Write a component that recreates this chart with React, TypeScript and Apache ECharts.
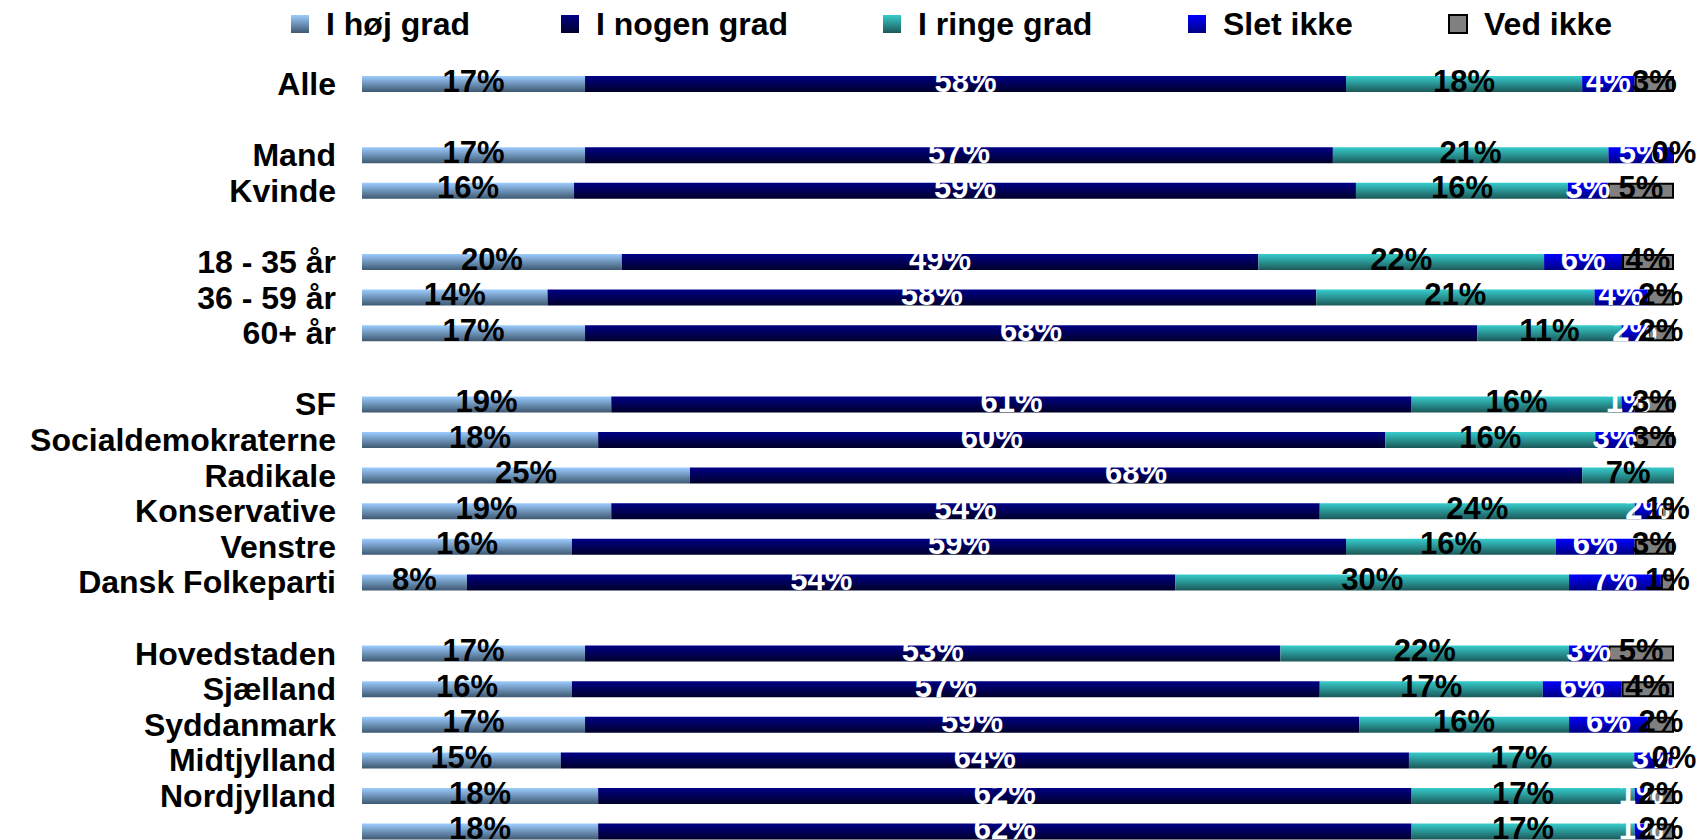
import React, { useEffect, useRef } from "react";
import * as echarts from "echarts";

const categories = [
  "Alle", "",
  "Mand", "Kvinde", "",
  "18 - 35 år", "36 - 59 år", "60+ år", "",
  "SF", "Socialdemokraterne", "Radikale", "Konservative", "Venstre", "Dansk Folkeparti", "",
  "Hovedstaden", "Sjælland", "Syddanmark", "Midtjylland", "Nordjylland", "",
];

const seriesNames = ["I høj grad", "I nogen grad", "I ringe grad", "Slet ikke", "Ved ikke"];

const hoejGrad = [17, null, 17, 16, null, 20, 14, 17, null, 19, 18, 25, 19, 16, 8, null, 17, 16, 17, 15, 18, 18];
const nogenGrad = [58, null, 57, 59, null, 49, 58, 68, null, 61, 60, 68, 54, 59, 54, null, 53, 57, 59, 64, 62, 62];
const ringeGrad = [18, null, 21, 16, null, 22, 21, 11, null, 16, 16, 7, 24, 16, 30, null, 22, 17, 16, 17, 17, 17];
const sletIkke = [4, null, 5, 3, null, 6, 4, 2, null, 1, 3, null, 2, 6, 7, null, 3, 6, 6, 3, 1, 1];
const vedIkke = [3, null, 0, 5, null, 4, 2, 2, null, 3, 3, null, 1, 3, 1, null, 5, 4, 2, 0, 2, 2];

const allValues = [hoejGrad, nogenGrad, ringeGrad, sletIkke, vedIkke];

const FONT = '"Liberation Sans", Arial, Helvetica, sans-serif';

function grad(top: string, bottom: string) {
  return new echarts.graphic.LinearGradient(0, 0, 0, 1, [
    { offset: 0, color: top },
    { offset: 1, color: bottom },
  ]);
}

const colors = [
  () => grad("#9cccff", "#3e5870"),
  () => grad("#000086", "#00002a"),
  () => grad("#36cccc", "#1c5858"),
  () => grad("#0000ff", "#000080"),
  () => "#808080",
];
const labelColors = ["#000", "#fff", "#000", "#fff", "#000"];
const legendLefts = [286, 556, 878, 1183, 1443];

export default function App() {
  const ref = useRef<HTMLDivElement>(null);
  useEffect(() => {
    if (!ref.current) return;
    const chart = echarts.init(ref.current, undefined, { renderer: "svg" });
    const totals = categories.map((_, i) =>
      allValues.reduce((s, arr) => s + (arr[i] == null ? 0 : (arr[i] as number)), 0)
    );
    const series = seriesNames.map((name, si) => ({
      name,
      type: "bar",
      stack: "total",
      barWidth: 16,
      data: allValues[si].map((v, i) =>
        v == null
          ? null
          : {
              value: (v / totals[i]) * 100,
              raw: v,
              itemStyle: si === 4 && v === 0 ? { borderWidth: 0 } : undefined,
            }
      ),
      itemStyle: {
        color: colors[si](),
        borderColor: si === 4 ? "#000" : undefined,
        borderWidth: si === 4 ? 2 : 0,
      },
      label: {
        show: true,
        position: "inside",
        formatter: (p: any) => (p.data && p.data.raw != null ? p.data.raw + "%" : ""),
        color: labelColors[si],
        fontFamily: FONT,
        fontSize: 31,
        fontWeight: "bold",
        offset: [0, -3],
      },
    }));
    const legend = seriesNames.map((name, si) => ({
      data: [name],
      left: legendLefts[si],
      top: 3,
      orient: "horizontal",
      icon: "rect",
      itemWidth: 18,
      itemHeight: 18,
      selectedMode: false,
      textStyle: {
        fontFamily: FONT,
        fontSize: 32,
        fontWeight: "bold",
        color: "#000",
        lineHeight: 32,
        padding: [0, 0, 0, 12],
      },
    }));
    chart.setOption({
      animation: false,
      backgroundColor: "#fff",
      legend,
      grid: { left: 362, width: 1312, top: 66.2, height: 783.2, containLabel: false },
      xAxis: { type: "value", min: 0, max: 100, show: false },
      yAxis: {
        type: "category",
        inverse: true,
        data: categories,
        axisLine: { show: false },
        axisTick: { show: false },
        splitLine: { show: false },
        axisLabel: {
          margin: 26,
          fontFamily: FONT,
          fontSize: 32,
          fontWeight: "bold",
          color: "#000",
          interval: 0,
        },
      },
      series,
    });
    return () => chart.dispose();
  }, []);
  return (
    <div
      ref={ref}
      style={{ position: "fixed", left: 0, top: 0, width: 1697, height: 870, background: "#fff" }}
    />
  );
}
